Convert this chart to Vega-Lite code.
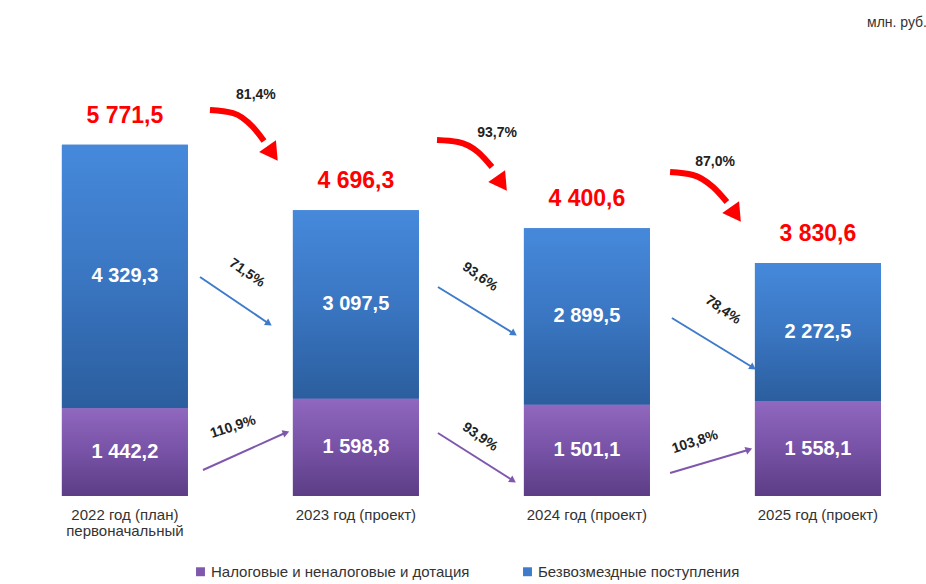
{
  "$schema": "https://vega.github.io/schema/vega-lite/v6.json",
  "width": 917,
  "height": 426,
  "autosize": "none",
  "padding": {"left": 9, "top": 70, "right": 0, "bottom": 88},
  "background": "white",
  "title": {"text": "млн. руб.", "anchor": "end", "fontSize": 14, "font": "Liberation Sans", "fontWeight": "normal", "color": "#333333", "offset": 40, "dx": 1},
  "datasets": {
    "bars": [
      {"year": "2022 год (план) первоначальный", "series": "Налоговые и неналоговые и дотация", "value": 1442.2},
      {"year": "2022 год (план) первоначальный", "series": "Безвозмездные поступления", "value": 4329.3},
      {"year": "2023 год (проект)", "series": "Налоговые и неналоговые и дотация", "value": 1598.8},
      {"year": "2023 год (проект)", "series": "Безвозмездные поступления", "value": 3097.5},
      {"year": "2024 год (проект)", "series": "Налоговые и неналоговые и дотация", "value": 1501.1},
      {"year": "2024 год (проект)", "series": "Безвозмездные поступления", "value": 2899.5},
      {"year": "2025 год (проект)", "series": "Налоговые и неналоговые и дотация", "value": 1558.1},
      {"year": "2025 год (проект)", "series": "Безвозмездные поступления", "value": 2272.5}
    ],
    "arrows": [
      {"series": "Безвозмездные поступления", "trend": "down", "x": 0.327, "y": 3599, "x2": 0.621, "y2": 2843, "pct": "71,5%", "lx": 0.53, "ly": 3664},
      {"series": "Налоговые и неналоговые и дотация", "trend": "up", "x": 0.34, "y": 427, "x2": 0.695, "y2": 1035, "pct": "110,9%", "lx": 0.47, "ly": 1134},
      {"series": "Безвозмездные поступления", "trend": "down", "x": 1.357, "y": 3434, "x2": 1.682, "y2": 2678, "pct": "93,6%", "lx": 1.539, "ly": 3599},
      {"series": "Налоговые и неналоговые и дотация", "trend": "down", "x": 1.357, "y": 1035, "x2": 1.678, "y2": 263, "pct": "93,9%", "lx": 1.539, "ly": 969},
      {"series": "Безвозмездные поступления", "trend": "down", "x": 2.37, "y": 2925, "x2": 2.717, "y2": 2120, "pct": "78,4%", "lx": 2.591, "ly": 3056},
      {"series": "Налоговые и неналоговые и дотация", "trend": "up", "x": 2.362, "y": 378, "x2": 2.699, "y2": 756, "pct": "103,8%", "lx": 2.47, "ly": 887}
    ],
    "redPaths": [
      {"arrow": 1, "pos": 1, "x": 0.37, "y": 6343},
      {"arrow": 1, "pos": 2, "x": 0.47, "y": 6293},
      {"arrow": 1, "pos": 3, "x": 0.556, "y": 6063},
      {"arrow": 1, "pos": 4, "x": 0.604, "y": 5833},
      {"arrow": 2, "pos": 1, "x": 1.353, "y": 5850},
      {"arrow": 2, "pos": 2, "x": 1.444, "y": 5817},
      {"arrow": 2, "pos": 3, "x": 1.53, "y": 5653},
      {"arrow": 2, "pos": 4, "x": 1.591, "y": 5406},
      {"arrow": 3, "pos": 1, "x": 2.362, "y": 5324},
      {"arrow": 3, "pos": 2, "x": 2.461, "y": 5275},
      {"arrow": 3, "pos": 3, "x": 2.548, "y": 5077},
      {"arrow": 3, "pos": 4, "x": 2.608, "y": 4831}
    ],
    "redHeads": [
      {"arrow": 1, "x": 0.634, "y": 5669, "pct": "81,4%", "lx": 0.569, "ly": 6589},
      {"arrow": 2, "x": 1.626, "y": 5176, "pct": "93,7%", "lx": 1.613, "ly": 5965},
      {"arrow": 3, "x": 2.639, "y": 4667, "pct": "87,0%", "lx": 2.557, "ly": 5488}
    ]
  },
  "layer": [
    {
      "data": {"name": "bars"},
      "encoding": {
        "x": {
          "field": "year", "type": "nominal",
          "scale": {"paddingInner": 0.4545, "paddingOuter": 0.212, "align": 0.54},
          "axis": {
            "title": null, "domain": false, "ticks": false, "labelAngle": 0,
            "labelPadding": 11, "labelFontSize": 15, "labelFont": "Liberation Sans", "labelColor": "#333333",
            "labelLineHeight": 16,
            "labelExpr": "datum.value == '2022 год (план) первоначальный' ? ['2022 год (план)', 'первоначальный'] : datum.value"
          }
        }
      },
      "layer": [
        {
          "transform": [{"stack": "value", "groupby": ["year"], "sort": [{"field": "series", "order": "descending"}], "as": ["v0", "v1"]}],
          "mark": {"type": "bar"},
          "encoding": {
            "y": {"field": "v1", "type": "quantitative", "scale": {"domain": [0, 7000], "nice": false},
              "axis": {"title": null, "labels": false, "ticks": false, "domain": false, "grid": true, "gridColor": "#e3e3e3", "gridWidth": 1.5, "values": [0, 1000, 2000, 3000, 4000, 5000, 6000, 7000]}},
            "y2": {"field": "v0"},
            "color": {
              "field": "series", "type": "nominal",
              "scale": {"domain": ["Налоговые и неналоговые и дотация", "Безвозмездные поступления"], "range": ["#7F58AE", "#3F7BCB"]},
              "legend": {"orient": "none", "legendX": 184, "legendY": 494, "direction": "horizontal", "title": null,
                "symbolType": "square", "symbolSize": 80, "symbolStrokeWidth": 0, "labelFontSize": 15, "labelFont": "Liberation Sans",
                "labelColor": "#333333", "columnPadding": 50, "labelOffset": 3, "labelLimit": 500}
            }
          }
        },
        {
          "transform": [
            {"stack": "value", "groupby": ["year"], "sort": [{"field": "series", "order": "descending"}], "as": ["v0", "v1"]},
            {"filter": "datum.series == 'Безвозмездные поступления'"}
          ],
          "mark": {"type": "bar", "fill": {"gradient": "linear", "x1": 0, "y1": 0, "x2": 0, "y2": 1, "stops": [{"offset": 0, "color": "#4689DB"}, {"offset": 0.5, "color": "#3A76C2"}, {"offset": 1, "color": "#2B5E9E"}]}},
          "encoding": {
            "y": {"field": "v1", "type": "quantitative", "axis": null},
            "y2": {"field": "v0"}
          }
        },
        {
          "transform": [
            {"stack": "value", "groupby": ["year"], "sort": [{"field": "series", "order": "descending"}], "as": ["v0", "v1"]},
            {"filter": "datum.series == 'Налоговые и неналоговые и дотация'"}
          ],
          "mark": {"type": "bar", "fill": {"gradient": "linear", "x1": 0, "y1": 0, "x2": 0, "y2": 1, "stops": [{"offset": 0, "color": "#9068BF"}, {"offset": 0.5, "color": "#7752A6"}, {"offset": 1, "color": "#5C3D85"}]}},
          "encoding": {
            "y": {"field": "v1", "type": "quantitative", "axis": null},
            "y2": {"field": "v0"}
          }
        },
        {
          "transform": [
            {"stack": "value", "groupby": ["year"], "sort": [{"field": "series", "order": "descending"}], "as": ["v0", "v1"]},
            {"fold": ["v0", "v1"], "as": ["edge", "pos"]},
            {"aggregate": [{"op": "mean", "field": "pos", "as": "mid"}], "groupby": ["year", "series", "value"]}
          ],
          "mark": {"type": "text", "color": "white", "fontSize": 20, "fontWeight": "bold", "font": "Liberation Sans", "baseline": "middle"},
          "encoding": {
            "y": {"field": "mid", "type": "quantitative", "axis": null},
            "text": {"field": "value", "type": "quantitative", "format": ",.1f"}
          }
        },
        {
          "transform": [{"aggregate": [{"op": "sum", "field": "value", "as": "total"}], "groupby": ["year"]}],
          "mark": {"type": "text", "color": "#FF0000", "fontSize": 23, "fontWeight": "bold", "font": "Liberation Sans", "baseline": "middle", "dy": -29},
          "encoding": {
            "y": {"field": "total", "type": "quantitative", "axis": null},
            "text": {"field": "total", "type": "quantitative", "format": ",.1f"}
          }
        }
      ]
    },
    {
      "layer": [
        {
          "data": {"name": "arrows"},
          "mark": {"type": "rule", "strokeWidth": 2},
          "encoding": {
            "x": {"field": "x", "type": "quantitative", "scale": {"domain": [-0.5, 3.47], "nice": false, "zero": false}, "axis": null},
            "x2": {"field": "x2"},
            "y": {"field": "y", "type": "quantitative", "axis": null},
            "y2": {"field": "y2"},
            "color": {"field": "series", "type": "nominal", "legend": null}
          }
        },
        {
          "data": {"name": "arrows"},
          "transform": [{"filter": "datum.trend == 'down'"}],
          "mark": {"type": "point", "shape": "triangle", "filled": true, "opacity": 1, "size": 60, "angle": 123},
          "encoding": {
            "x": {"field": "x2", "type": "quantitative", "axis": null},
            "y": {"field": "y2", "type": "quantitative", "axis": null},
            "color": {"field": "series", "type": "nominal", "legend": null}
          }
        },
        {
          "data": {"name": "arrows"},
          "transform": [{"filter": "datum.trend == 'up'"}],
          "mark": {"type": "point", "shape": "triangle", "filled": true, "opacity": 1, "size": 60, "angle": 70},
          "encoding": {
            "x": {"field": "x2", "type": "quantitative", "axis": null},
            "y": {"field": "y2", "type": "quantitative", "axis": null},
            "color": {"field": "series", "type": "nominal", "legend": null}
          }
        },
        {
          "data": {"name": "arrows"},
          "transform": [{"filter": "datum.trend == 'down'"}],
          "mark": {"type": "text", "fontSize": 14, "fontWeight": "bold", "font": "Liberation Sans", "color": "#222222", "angle": 35, "baseline": "middle"},
          "encoding": {
            "x": {"field": "lx", "type": "quantitative", "axis": null},
            "y": {"field": "ly", "type": "quantitative", "axis": null},
            "text": {"field": "pct"}
          }
        },
        {
          "data": {"name": "arrows"},
          "transform": [{"filter": "datum.trend == 'up'"}],
          "mark": {"type": "text", "fontSize": 14, "fontWeight": "bold", "font": "Liberation Sans", "color": "#222222", "angle": 342, "baseline": "middle"},
          "encoding": {
            "x": {"field": "lx", "type": "quantitative", "axis": null},
            "y": {"field": "ly", "type": "quantitative", "axis": null},
            "text": {"field": "pct"}
          }
        },
        {
          "data": {"name": "redPaths"},
          "mark": {"type": "line", "color": "#FF0000", "strokeWidth": 6, "interpolate": "monotone"},
          "encoding": {
            "x": {"field": "x", "type": "quantitative", "axis": null},
            "y": {"field": "y", "type": "quantitative", "axis": null},
            "detail": {"field": "arrow"},
            "order": {"field": "pos"}
          }
        },
        {
          "data": {"name": "redHeads"},
          "mark": {"type": "point", "shape": "triangle", "filled": true, "opacity": 1, "color": "#FF0000", "size": 420, "angle": 145},
          "encoding": {
            "x": {"field": "x", "type": "quantitative", "axis": null},
            "y": {"field": "y", "type": "quantitative", "axis": null}
          }
        },
        {
          "data": {"name": "redHeads"},
          "mark": {"type": "text", "fontSize": 14, "fontWeight": "bold", "font": "Liberation Sans", "color": "#222222", "baseline": "middle"},
          "encoding": {
            "x": {"field": "lx", "type": "quantitative", "axis": null},
            "y": {"field": "ly", "type": "quantitative", "axis": null},
            "text": {"field": "pct"}
          }
        }
      ]
    }
  ],
  "resolve": {"scale": {"x": "independent"}, "axis": {"x": "independent"}},
  "config": {
    "view": {"stroke": null},
    "locale": {"number": {"decimal": ",", "thousands": " ", "grouping": [3], "currency": ["", " ₽"]}}
  }
}
